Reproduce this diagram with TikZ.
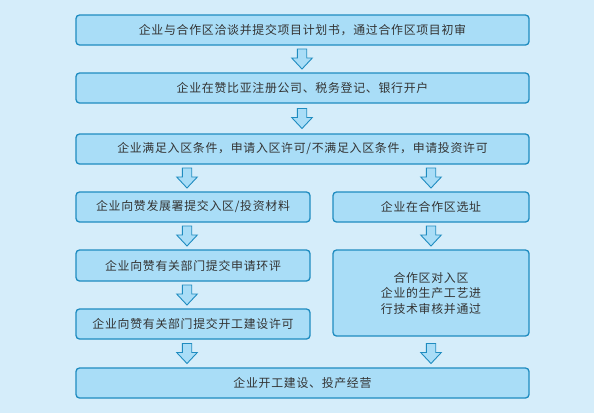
\documentclass[tikz,border=0pt]{standalone}
\usepackage{fontspec}
\newfontfamily\cjk[LetterSpace=6]{Noto Sans CJK SC}
\definecolor{bgc}{HTML}{D5EDFA}
\definecolor{boxfill}{HTML}{A9DDF7}
\definecolor{boxline}{HTML}{1F8CC0}
\definecolor{txt}{HTML}{333333}
\tikzset{
  box/.style={draw=boxline, fill=boxfill, line width=1.3pt, rounded corners=3.5pt, inner sep=0pt, font=\cjk\fontsize{11.9}{15.5}\selectfont, text=txt, align=center},
  blockarr/.style={draw=boxline, fill=boxfill, line width=0.9pt, line join=miter}
}
\newcommand\blockarrow[1]{%
  \draw[blockarr] ([shift={(-4.7,0)}]#1) -- ++(9.4,0) -- ++(0,9) -- ++(5.6,0) -- ++(-10.3,11) -- ++(-10.3,-11) -- ++(5.6,0) -- cycle;}
\begin{document}
\begin{tikzpicture}[x=1pt,y=-1pt]
\fill[bgc] (0,0) rectangle (594,413);
\useasboundingbox (0,0) rectangle (594,413);
\node[box, minimum width=453pt, minimum height=30pt] (b1) at (302.5,30) {企业与合作区洽谈并提交项目计划书，通过合作区项目初审};
\node[box, minimum width=453pt, minimum height=30pt] (b2) at (302.5,88) {企业在赞比亚注册公司、税务登记、银行开户};
\node[box, minimum width=453pt, minimum height=30pt] (b3) at (302.5,149) {企业满足入区条件，申请入区许可/不满足入区条件，申请投资许可};
\node[box, minimum width=234pt, minimum height=30pt] (b4l) at (193,207) {企业向赞发展署提交入区/投资材料};
\node[box, minimum width=196pt, minimum height=30pt] (b4r) at (431,207) {企业在合作区选址};
\node[box, minimum width=234pt, minimum height=31pt] (b5l) at (193,265.5) {企业向赞有关部门提交申请环评};
\node[box, minimum width=196pt, minimum height=86pt] (b5r) at (431,293) {合作区对入区\\企业的生产工艺进\\行技术审核并通过};
\node[box, minimum width=234pt, minimum height=30pt] (b6l) at (193,324) {企业向赞有关部门提交开工建设许可};
\node[box, minimum width=453pt, minimum height=30pt] (b7) at (302.5,383) {企业开工建设、投产经营};
% arrows
\coordinate (a1) at (302,49);
\coordinate (a2) at (302,108.5);
\coordinate (a3l) at (187,168);
\coordinate (a3r) at (431,168);
\coordinate (a4l) at (187,226);
\coordinate (a4r) at (431,226);
\coordinate (a5l) at (187,285);
\coordinate (a6l) at (187,343.5);
\coordinate (a6r) at (431,343.5);
\blockarrow{a1}
\blockarrow{a2}
\blockarrow{a3l}
\blockarrow{a3r}
\blockarrow{a4l}
\blockarrow{a4r}
\blockarrow{a5l}
\blockarrow{a6l}
\blockarrow{a6r}
\end{tikzpicture}
\end{document}
